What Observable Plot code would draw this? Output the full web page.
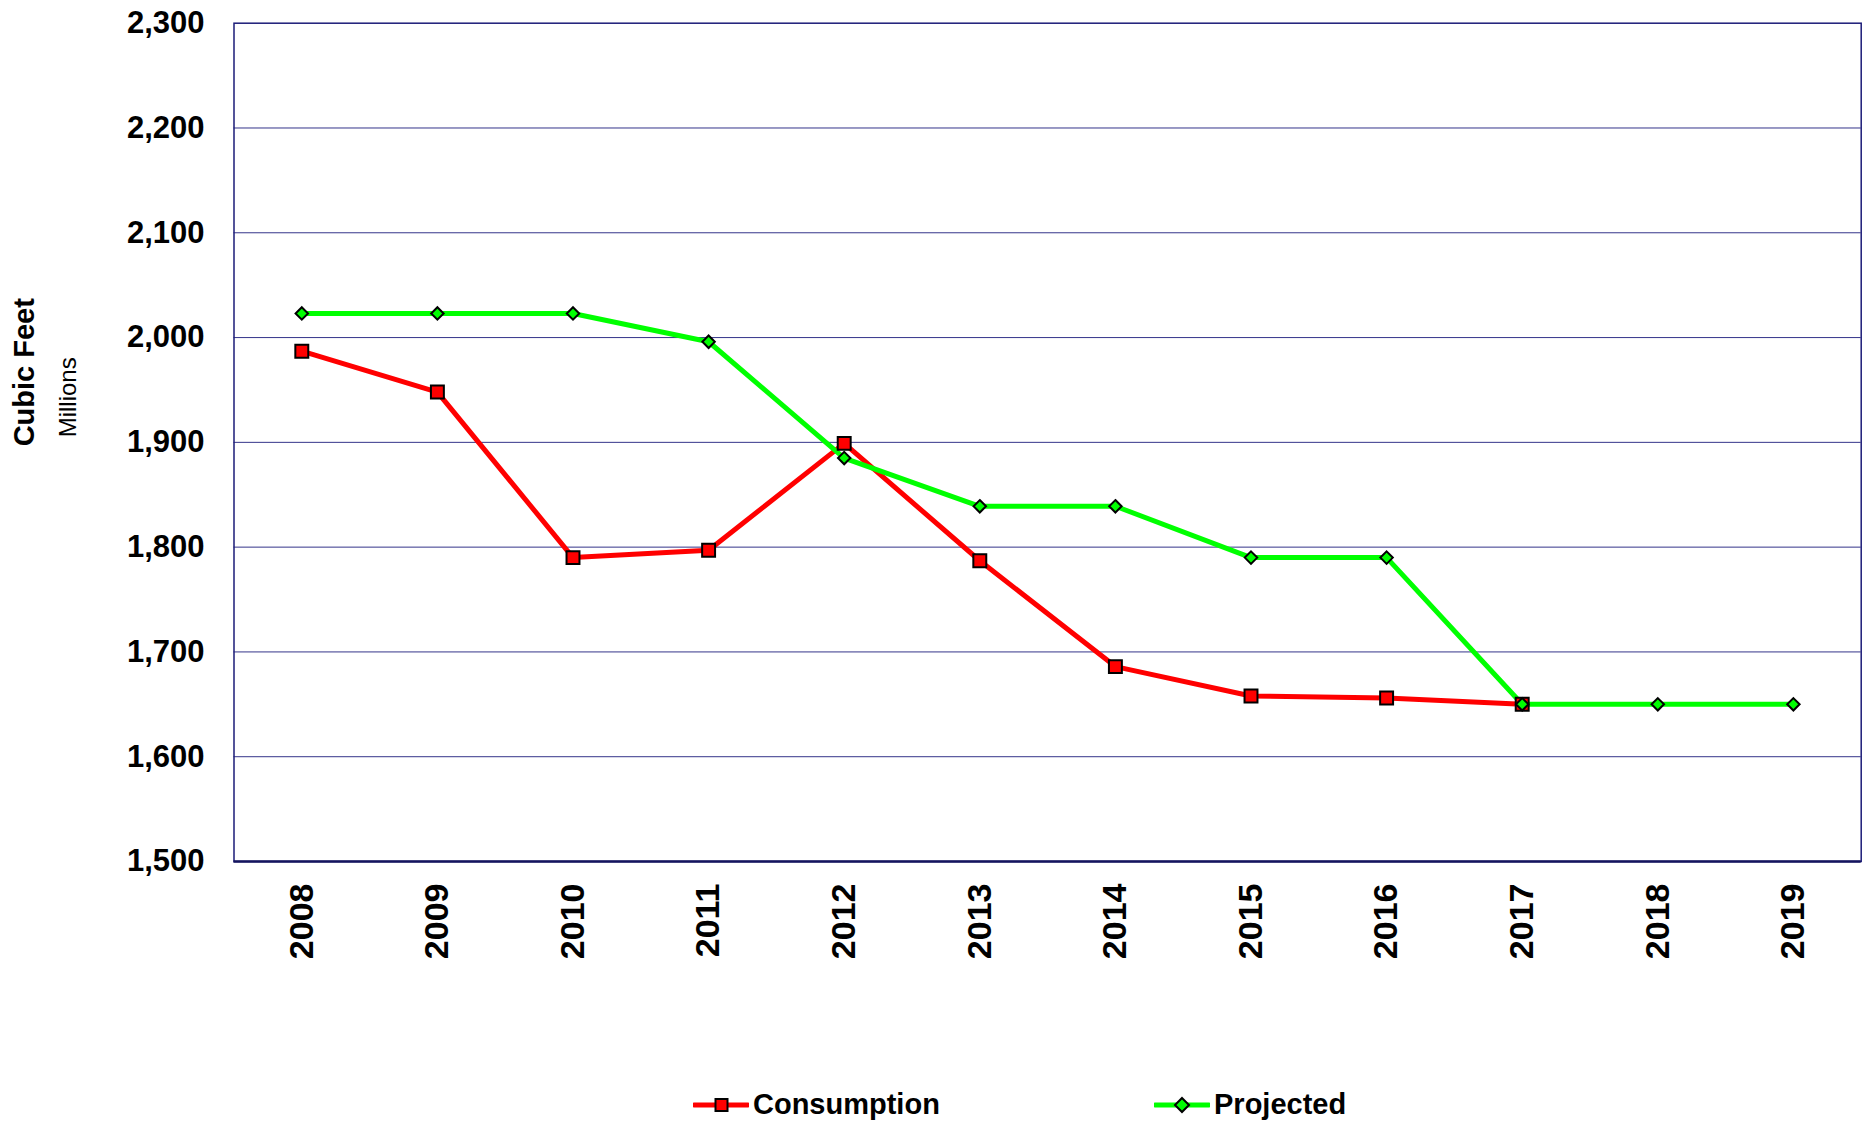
<!DOCTYPE html>
<html>
<head>
<meta charset="utf-8">
<script src="https://cdn.jsdelivr.net/npm/d3@7"></script>
<script src="https://cdn.jsdelivr.net/npm/@observablehq/plot@0.6"></script>
<style>
  html, body { margin: 0; padding: 0; background: #fff; }
  body { width: 1866px; height: 1123px; overflow: hidden; font-family: "Liberation Sans", Arial, sans-serif; }
  #legend { position: relative; height: 43px; width: 1866px; margin-top: 3px; }
  .item { position: absolute; top: 0; height: 43px; display: flex; align-items: center; font-weight: bold; font-size: 29px; color: #000; }
  .item svg { display: block; margin-right: 4px; }
</style>
</head>
<body>
<div id="chart"></div>
<div id="legend"></div>
<script>
const years = [2008, 2009, 2010, 2011, 2012, 2013, 2014, 2015, 2016, 2017, 2018, 2019];
const consumption = [1987, 1948, 1790, 1797, 1899, 1787, 1686, 1658, 1656, 1650, null, null];
const projected = [2023, 2023, 2023, 1996, 1885, 1839, 1839, 1790, 1790, 1650, 1650, 1650];
const yTicks = [1500, 1600, 1700, 1800, 1900, 2000, 2100, 2200, 2300];
const seriesNames = ["Consumption", "Projected"];
const seriesColors = ["#ff0000", "#00ff00"];

const consData = years.map((y, i) => ({year: y, value: consumption[i]})).filter(d => d.value != null);
const projData = years.map((y, i) => ({year: y, value: projected[i]}));

const font = "Liberation Sans, Arial, sans-serif";

const chart = Plot.plot({
  width: 1866,
  height: 1080,
  marginLeft: 233.5,
  marginRight: 5.3,
  marginTop: 22.7,
  marginBottom: 219,
  style: {fontFamily: font, background: "#fff", color: "#000"},
  x: {type: "point", domain: years, padding: 0.5, round: false},
  y: {domain: [1500, 2300]},
  marks: [
    Plot.ruleY(yTicks.slice(1, -1), {stroke: "#34348a", strokeWidth: 1}),
    Plot.frame({stroke: "#1c1c78", strokeWidth: 1.5}),
    Plot.axisY({ticks: yTicks, tickFormat: d3.format(","), tickSize: 0, tickPadding: 29.5, fontSize: 31, fontWeight: "bold", label: null}),
    Plot.axisX({tickFormat: d => String(d), tickSize: 0, tickPadding: 22, tickRotate: -90, fontSize: 34, fontWeight: "bold", label: null}),
    Plot.ruleY([1500], {stroke: "#14145e", strokeWidth: 2.5}),
    Plot.text(["Cubic Feet"], {frameAnchor: "left", dx: -209.5, dy: 4, rotate: -90, fontSize: 29, fontWeight: "bold", text: d => d, fill: "#000"}),
    Plot.text(["Millions"], {frameAnchor: "left", dx: -165.5, dy: -5, rotate: -90, fontSize: 24, text: d => d, fill: "#000"}),
    Plot.line(consData, {x: "year", y: "value", stroke: seriesColors[0], strokeWidth: 5}),
    Plot.line(projData, {x: "year", y: "value", stroke: seriesColors[1], strokeWidth: 5}),
    Plot.dot(consData, {x: "year", y: "value", symbol: "square", r: 7.3, fill: seriesColors[0], stroke: "#000", strokeWidth: 2}),
    Plot.dot(projData, {x: "year", y: "value", symbol: "diamond2", r: 5.6, fill: seriesColors[1], stroke: "#000", strokeWidth: 2})
  ]
});
document.getElementById("chart").appendChild(chart);

// Legend
const legend = document.getElementById("legend");
const legendX = [693, 1154];
seriesNames.forEach((name, i) => {
  const item = document.createElement("div");
  item.className = "item";
  item.style.left = legendX[i] + "px";
  const sw = d3.create("svg").attr("width", 56).attr("height", 20);
  sw.append("line").attr("x1", 1).attr("x2", 55).attr("y1", 10).attr("y2", 10)
    .attr("stroke", seriesColors[i]).attr("stroke-width", 5).attr("stroke-linecap", "round");
  if (i === 0) {
    sw.append("rect").attr("x", 22.5).attr("y", 4).attr("width", 12).attr("height", 12)
      .attr("fill", seriesColors[i]).attr("stroke", "#000").attr("stroke-width", 2);
  } else {
    sw.append("path").attr("d", "M28,3 L35,10 L28,17 L21,10 Z")
      .attr("fill", seriesColors[i]).attr("stroke", "#000").attr("stroke-width", 2);
  }
  item.appendChild(sw.node());
  const t = document.createElement("span");
  t.textContent = name;
  item.appendChild(t);
  legend.appendChild(item);
});
</script>
</body>
</html>
